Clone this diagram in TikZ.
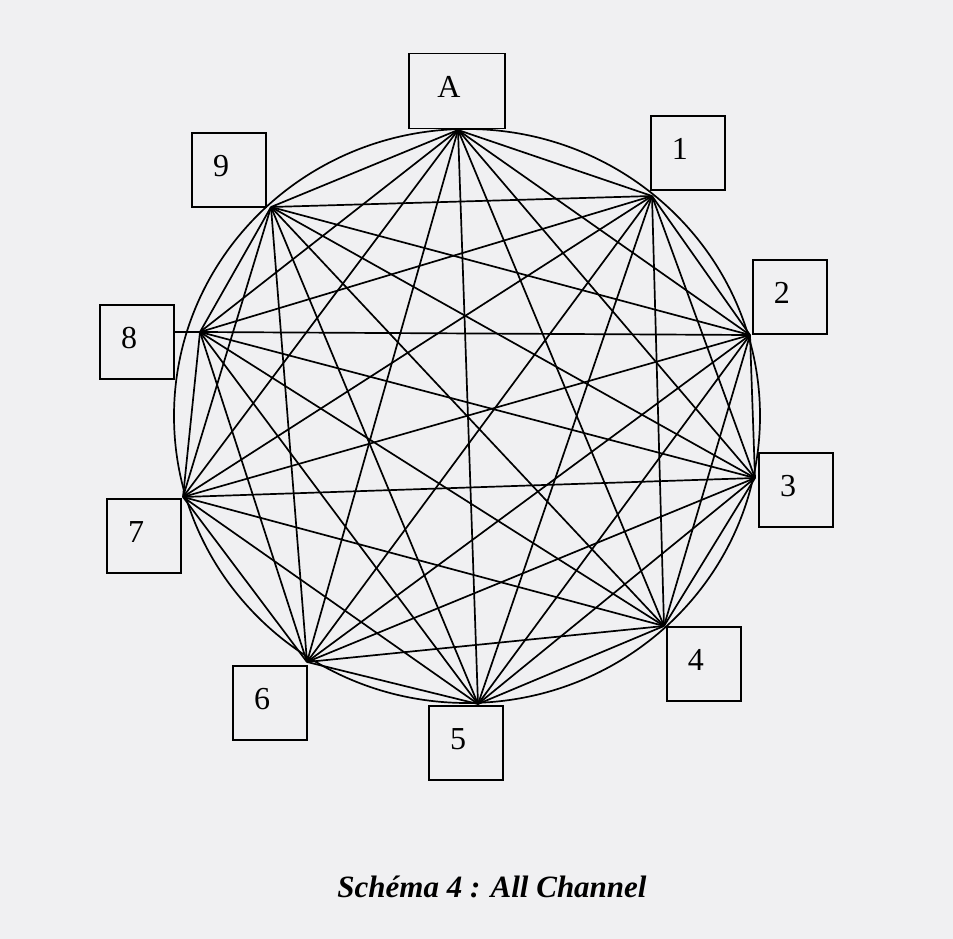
\documentclass[tikz,border=0pt]{standalone}
\usepackage{fontspec}
\setmainfont{Liberation Serif}
\usepackage{tikz}
\usetikzlibrary{positioning, calc}
\definecolor{paper}{RGB}{240, 240, 242}

\begin{document}
\begin{tikzpicture}[
    x=1pt, y=-1pt,
    chord/.style={line width=1.7pt, black},
    box/.style={rectangle, draw, line width=1.6pt, inner sep=0pt, minimum width=74pt, minimum height=74pt,
        label={[font=\fontsize{32}{32}\selectfont, xshift=-8pt, yshift=4pt]center:#1}},
    caption/.style={font=\fontsize{31}{36}\selectfont\bfseries\itshape, anchor=base}
]
    \fill[paper] (0,0) rectangle (953,939);
    \useasboundingbox (0,0) rectangle (953,939);

    \coordinate (pA) at (458,130);
    \coordinate (p1) at (652,196);
    \coordinate (p2) at (750,335);
    \coordinate (p3) at (755,478);
    \coordinate (p4) at (664,626);
    \coordinate (p5) at (478,704);
    \coordinate (p6) at (307,662);
    \coordinate (p7) at (183,497);
    \coordinate (p8) at (200,332);
    \coordinate (p9) at (271,207);

    \node[box=A, minimum width=96pt, minimum height=75pt] (bA) at (457,91) {};
    \node[box=1, anchor=south west] (b1) at (650,191) {};
    \node[box=2, anchor=south west] (b2) at (752,335) {};
    \node[box=3] (b3) at (796,490) {};
    \node[box=4, anchor=north west] (b4) at (666,626) {};
    \node[box=5] (b5) at (466,743) {};
    \node[box=6, anchor=north east] (b6) at (308,665) {};
    \node[box=7, anchor=north east] (b7) at (182,498) {};
    \node[box=8] (b8) at (137,342) {};
    \node[box=9, anchor=south east] (b9) at (267,208) {};

    \draw[chord] (467,416) ellipse [x radius=293pt, y radius=287pt];

    \foreach \a [count=\i] in {A,1,2,3,4,5,6,7,8,9}
        \foreach \b [count=\j] in {A,1,2,3,4,5,6,7,8,9}
            {\ifnum\j>\i \draw[chord] (p\a) -- (p\b); \fi}
    \draw[chord] (p8) -- (p8 -| b8.east);

    \node[caption] (title) at (492,897) {Schéma 4 : All Channel};
\end{tikzpicture}
\end{document}
